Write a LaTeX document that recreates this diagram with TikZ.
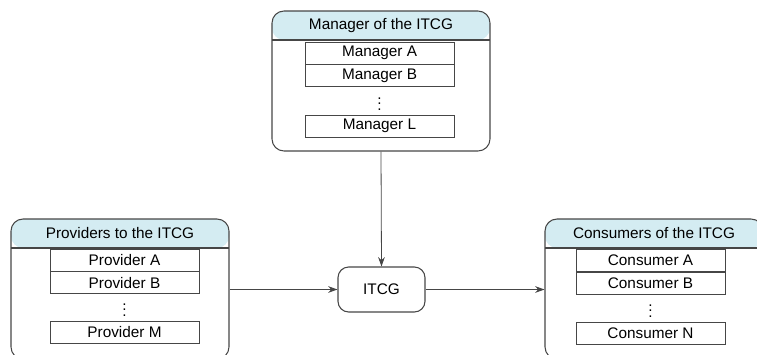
\documentclass[tikz,border=0pt]{standalone}
\usepackage{fontspec}
\setmainfont{Liberation Sans}
\usetikzlibrary{arrows.meta,positioning}
\definecolor{headblue}{RGB}{212,236,242}
\definecolor{edgegray}{RGB}{70,70,70}

\begin{document}
\begin{tikzpicture}[x=0.75pt, y=-0.75pt, >={Stealth[length=7pt,width=5pt]},
  font=\fontsize{11.5}{13}\selectfont,
  panel/.style={draw=edgegray, rounded corners=9pt, line width=0.8pt,
    minimum width=163.5pt, minimum height=105pt, inner sep=0pt,
    path picture={
      \fill[headblue] (path picture bounding box.north west) rectangle
        ([yshift=-21.75pt]path picture bounding box.north east);
      \draw[edgegray, line width=0.8pt] ([yshift=-21.75pt]path picture bounding box.north west)
        -- ([yshift=-21.75pt]path picture bounding box.north east);
    }},
  item/.style={draw=edgegray, line width=0.6pt, minimum width=111.75pt,
    minimum height=16.5pt, inner sep=0pt},
  dots/.style={inner sep=0pt},
  core/.style={draw=edgegray, rounded corners=8pt, line width=0.8pt,
    minimum width=65.25pt, minimum height=33.75pt},
  link/.style={->, edgegray, line width=0.6pt}]
  \useasboundingbox (0,0) rectangle (757,354);

  %% ── Manager panel (top) ─────────────────────────────────
  \node[panel] (mgr) at (381,81) {};
  \node (mgrhead) at (381,25.5) {Manager of the ITCG};
  \node[item] (mgrA) at (379.5,53) {Manager A};
  \node[item, below=0pt of mgrA] (mgrB) {Manager B};
  \node[dots] (mgrdots) at (379.5,100) {$\vdots$};
  \node[item] (mgrL) at (379.5,126) {Manager L};

  %% ── Providers panel (left) ──────────────────────────────
  \node[panel] (prov) at (120,289) {};
  \node (provhead) at (120,233.5) {Providers to the ITCG};
  \node[item] (provA) at (124.5,260) {Provider A};
  \node[item, below=0pt of provA] (provB) {Provider B};
  \node[dots] (provdots) at (124.5,306) {$\vdots$};
  \node[item] (provM) at (124.5,332) {Provider M};

  %% ── Consumers panel (right) ─────────────────────────────
  \node[panel] (cons) at (654,289) {};
  \node (conshead) at (654,233.5) {Consumers of the ITCG};
  \node[item] (consA) at (650.5,260.5) {Consumer A};
  \node[item, below=0pt of consA] (consB) {Consumer B};
  \node[dots] (consdots) at (650.5,307) {$\vdots$};
  \node[item] (consN) at (650.5,333) {Consumer N};

  %% ── Centre: the ITCG and its links ──────────────────────
  \node[core] (itcg) at (381.5,289.5) {ITCG};
  \draw[link] (mgr.south) -- (itcg.north);
  \draw[link] (prov.east |- itcg) -- (itcg.west);
  \draw[link] (itcg.east) -- (cons.west |- itcg);
\end{tikzpicture}
\end{document}
